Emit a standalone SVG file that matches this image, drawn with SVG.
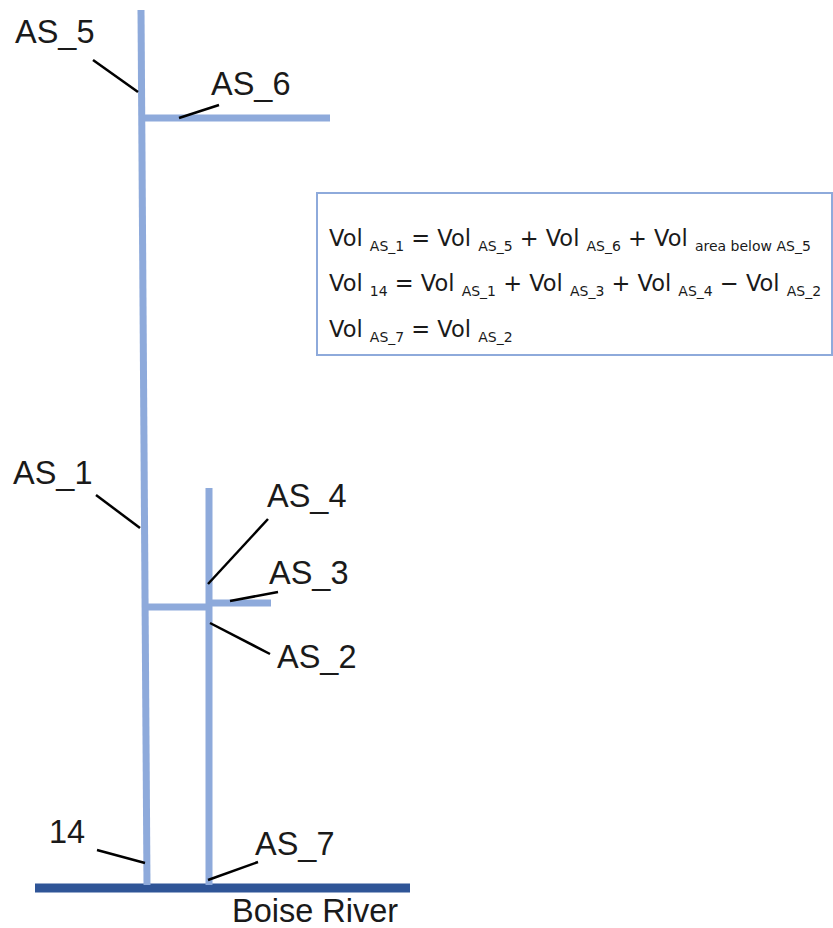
<svg xmlns="http://www.w3.org/2000/svg" width="833" height="928" viewBox="0 0 833 928">
<style>
.stream{stroke:#8eaadb;stroke-width:7;fill:none}
.river{stroke:#2f5597;stroke-width:9;fill:none}
.lead{stroke:#000;stroke-width:2.5;fill:none}
.lbl{font-family:"Liberation Sans",Arial,sans-serif;font-size:32.5px;fill:#1a1a1a}
.eq{font-family:"DejaVu Sans","Liberation Sans",sans-serif;font-size:22.5px;fill:#1a1a1a}
.sub{font-size:14px}
</style>
<rect width="833" height="928" fill="#fff"/>
<g id="connectors">
<line class="river" x1="35" y1="888" x2="410" y2="888"/>
<line class="stream" x1="141" y1="10" x2="147" y2="885"/>
<line class="stream" x1="142" y1="118" x2="330" y2="118"/>
<line class="stream" x1="209" y1="488" x2="209" y2="885"/>
<line class="stream" x1="146" y1="607" x2="209" y2="607"/>
<line class="stream" x1="209" y1="603" x2="271" y2="603"/>
<line class="lead" x1="93" y1="60" x2="138" y2="92"/>
<line class="lead" x1="219" y1="105" x2="179" y2="118"/>
<line class="lead" x1="96" y1="495" x2="140" y2="528"/>
<line class="lead" x1="268" y1="519" x2="208" y2="584"/>
<line class="lead" x1="278" y1="592" x2="230" y2="601"/>
<line class="lead" x1="210" y1="623" x2="270" y2="654"/>
<line class="lead" x1="97" y1="850" x2="145" y2="863"/>
<line class="lead" x1="258" y1="862" x2="208" y2="880"/>
</g>
<g id="AS_5"><text class="lbl" x="15" y="43">AS_5</text></g>
<g id="AS_6"><text class="lbl" x="211" y="95">AS_6</text></g>
<g id="AS_1"><text class="lbl" x="13" y="484">AS_1</text></g>
<g id="AS_4"><text class="lbl" x="267" y="507">AS_4</text></g>
<g id="AS_3"><text class="lbl" x="269" y="584">AS_3</text></g>
<g id="AS_2"><text class="lbl" x="277" y="668">AS_2</text></g>
<g id="n14"><text class="lbl" x="49" y="843">14</text></g>
<g id="AS_7"><text class="lbl" x="255" y="855">AS_7</text></g>
<g id="river"><text class="lbl" x="232" y="922">Boise River</text></g>
<g id="equations">
<rect x="317" y="193" width="515" height="162" fill="#fff" stroke="#8eaadb" stroke-width="2"/>
<text class="eq" x="329" y="246">Vol <tspan class="sub" dy="5">AS_1</tspan><tspan dy="-5"> = Vol </tspan><tspan class="sub" dy="5">AS_5</tspan><tspan dy="-5"> + Vol </tspan><tspan class="sub" dy="5">AS_6</tspan><tspan dy="-5"> + Vol </tspan><tspan class="sub" dy="5">area below AS_5</tspan></text>
<text class="eq" x="329" y="291">Vol <tspan class="sub" dy="5">14</tspan><tspan dy="-5"> = Vol </tspan><tspan class="sub" dy="5">AS_1</tspan><tspan dy="-5"> + Vol </tspan><tspan class="sub" dy="5">AS_3</tspan><tspan dy="-5"> + Vol </tspan><tspan class="sub" dy="5">AS_4</tspan><tspan dy="-5"> − Vol </tspan><tspan class="sub" dy="5">AS_2</tspan></text>
<text class="eq" x="329" y="337">Vol <tspan class="sub" dy="5">AS_7</tspan><tspan dy="-5"> = Vol </tspan><tspan class="sub" dy="5">AS_2</tspan></text>
</g>
</svg>
